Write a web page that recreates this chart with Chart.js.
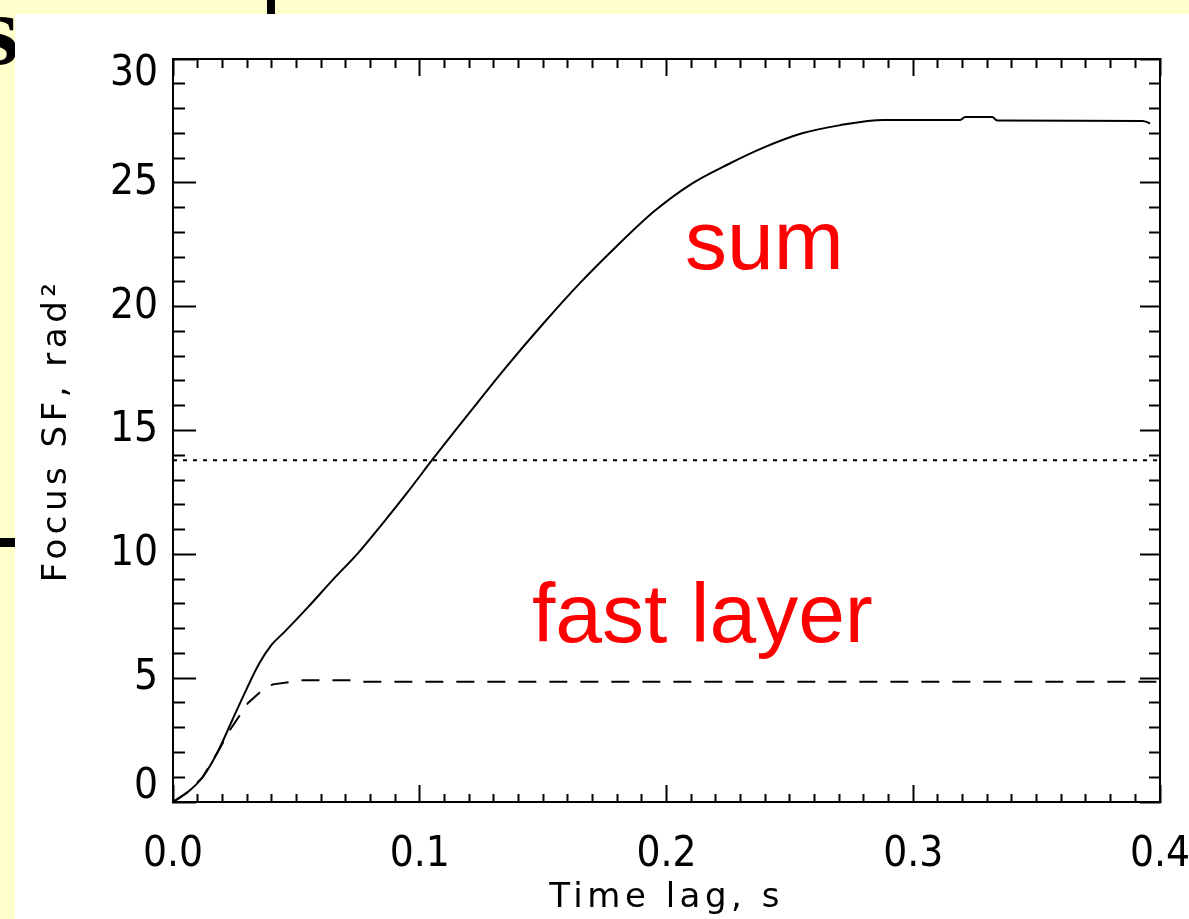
<!DOCTYPE html>
<html><head><meta charset="utf-8">
<script src="https://cdn.jsdelivr.net/npm/chart.js@4.4.1/dist/chart.umd.min.js"></script>
<style>
html,body{margin:0;padding:0;background:#FFFFCC;width:1189px;height:919px;overflow:hidden;position:relative;}
#panel{position:absolute;left:15px;top:14px;width:1174px;height:905px;background:#fff;overflow:hidden;}
#c{position:absolute;left:0;top:0;}
.deco{position:absolute;background:#000;}
#s{position:absolute;left:-20px;top:-19px;font:bold 100px 'Liberation Serif','DejaVu Serif',serif;line-height:100px;color:#000;}
</style></head>
<body>
<div id="s">s</div>
<div class="deco" style="left:267px;top:0;width:8px;height:14px"></div>
<div class="deco" style="left:0;top:538px;width:15px;height:9px"></div>
<div id="panel"><canvas id="c" width="1174" height="960"></canvas></div>
<script>
// ---- data ----
const sumTime  = [0, 0.006, 0.012, 0.018, 0.024, 0.03, 0.035, 0.04, 0.045, 0.055, 0.065, 0.075, 0.085, 0.095, 0.1055, 0.12, 0.135, 0.15, 0.165, 0.18, 0.195, 0.21, 0.225, 0.24, 0.255, 0.27, 0.288, 0.319, 0.321, 0.332, 0.334, 0.393, 0.396];
const sumValue = [0, 0.4, 1.0, 2.0, 3.3, 4.6, 5.6, 6.35, 6.85, 7.9, 9.0, 10.05, 11.25, 12.5, 13.87, 15.7, 17.56, 19.31, 20.96, 22.46, 23.85, 24.95, 25.75, 26.45, 27.0, 27.32, 27.54, 27.54, 27.66, 27.66, 27.52, 27.5, 27.4];
const fastTime  = [0, 0.006, 0.012, 0.018, 0.023, 0.0304, 0.036, 0.0405, 0.0527, 0.072, 0.076, 0.4];
const fastValue = [0, 0.4, 1.0, 2.0, 2.9, 4.0, 4.5, 4.75, 4.92, 4.92, 4.86, 4.86];
const levelTime  = [0, 0.4];
const levelValue = [13.8, 13.8];
const xTickLabels = ['0.0', '0.1', '0.2', '0.3', '0.4'];
const yTickLabels = ['0', '5', '10', '15', '20', '25', '30'];
const annotations = [
  {text: 'sum', x: 0.2075, y: 21.53},
  {text: 'fast layer', x: 0.1455, y: 6.45}
];

const toPts = (xs, ys) => xs.map((x, i) => ({x, y: ys[i]}));
const isMajorX = v => Math.abs(v * 10 - Math.round(v * 10)) < 1e-6;
const isMajorY = v => Math.abs(v / 5 - Math.round(v / 5)) < 1e-6;

const tickFamily = "'Liberation Sans Narrow','DejaVu Sans Condensed','DejaVu Sans',sans-serif";
const titleFont = {family: "'DejaVu Sans',sans-serif", size: 34};

function fixSize(prop, val) {
  return s => { s[prop] = val; s.paddingLeft = 0; s.paddingRight = 0; s.paddingTop = 0; s.paddingBottom = 0; };
}
// border-first axes (bottom, right): minor dash [m, big]
// inside-first axes (top, left): minor dash [0, L-m, big]
function gridOpts(L, m, borderFirst, isMajor) {
  return {
    drawOnChartArea: false, drawTicks: true, tickLength: -L,
    tickColor: '#000', tickWidth: 2,
    tickBorderDash: c => isMajor(c.tick ? c.tick.value : 0) ? [] : (borderFirst ? [m, 2000] : [0, L - m, 2000])
  };
}

const spacingPlugin = {
  id: 'spacing',
  beforeDraw(chart) { chart.ctx.letterSpacing = '4.5px'; },
  afterDatasetsDraw(chart) { chart.ctx.letterSpacing = '0px'; },
  afterDraw(chart) {
    const ctx = chart.ctx, xs = chart.scales.x, ys = chart.scales.y;
    ctx.save();
    ctx.letterSpacing = '0px';
    ctx.font = "84px 'Liberation Sans', Arial, sans-serif";
    ctx.fillStyle = '#ff0000';
    ctx.textAlign = 'left';
    ctx.textBaseline = 'alphabetic';
    annotations.forEach(a => ctx.fillText(a.text, xs.getPixelForValue(a.x), ys.getPixelForValue(a.y)));
    ctx.restore();
  }
};

new Chart(document.getElementById('c'), {
  type: 'line',
  data: {
    datasets: [
      {label: 'sum', data: toPts(sumTime, sumValue), borderColor: '#000', borderWidth: 2, pointRadius: 0, tension: 0, cubicInterpolationMode: 'monotone', fill: false},
      {label: 'fast layer', data: toPts(fastTime, fastValue), borderColor: '#000', borderWidth: 2, pointRadius: 0, tension: 0, borderDash: [18, 13], fill: false},
      {label: 'level', data: toPts(levelTime, levelValue), borderColor: '#000', borderWidth: 2, pointRadius: 0, tension: 0, borderDash: [4, 6], fill: false}
    ]
  },
  options: {
    responsive: false, animation: false, devicePixelRatio: 1,
    layout: {padding: 0},
    plugins: {legend: {display: false}, tooltip: {enabled: false}},
    scales: {
      x: {
        type: 'linear', position: 'bottom', min: 0, max: 0.4,
        afterFit: fixSize('height', 172),
        border: {display: true, color: '#000', width: 2},
        grid: gridOpts(17, 9, true, isMajorX),
        ticks: {
          stepSize: 0.01, autoSkip: false, maxRotation: 0, padding: 45, z: 1, color: '#000',
          font: {family: tickFamily, size: 42},
          callback: v => isMajorX(v) ? xTickLabels[Math.round(v * 10)] : ''
        },
        title: {display: true, text: 'Time lag, s', color: '#000', font: titleFont, padding: {bottom: 55}}
      },
      x2: {
        type: 'linear', position: 'top', min: 0, max: 0.4,
        afterFit: fixSize('height', 45),
        border: {display: true, color: '#000', width: 2},
        grid: gridOpts(17, 9, false, isMajorX),
        ticks: {stepSize: 0.01, autoSkip: false, display: false}
      },
      y: {
        type: 'linear', position: 'left', min: 0, max: 30,
        afterFit: fixSize('width', 158),
        border: {display: true, color: '#000', width: 2},
        grid: gridOpts(23, 12, false, isMajorY),
        ticks: {
          stepSize: 1, autoSkip: false, padding: 38, z: 1, color: '#000',
          font: c => ({family: tickFamily, size: 42, lineHeight: (c.tick && (c.tick.value === 0 || c.tick.value === 30)) ? '30px' : 1.2}),
          callback: v => {
            if (!isMajorY(v)) return '';
            const lab = yTickLabels[Math.round(v / 5)];
            if (v === 0) return [lab, ''];
            if (v === 30) return ['', lab];
            return lab;
          }
        },
        title: {display: true, text: 'Focus SF, rad\u00B2', color: '#000', font: titleFont, padding: {top: 22}}
      },
      y2: {
        type: 'linear', position: 'right', min: 0, max: 30,
        afterFit: fixSize('width', 29),
        border: {display: true, color: '#000', width: 2},
        grid: gridOpts(20, 12, true, isMajorY),
        ticks: {stepSize: 1, autoSkip: false, display: false}
      }
    }
  },
  plugins: [spacingPlugin]
});
</script>
</body></html>
